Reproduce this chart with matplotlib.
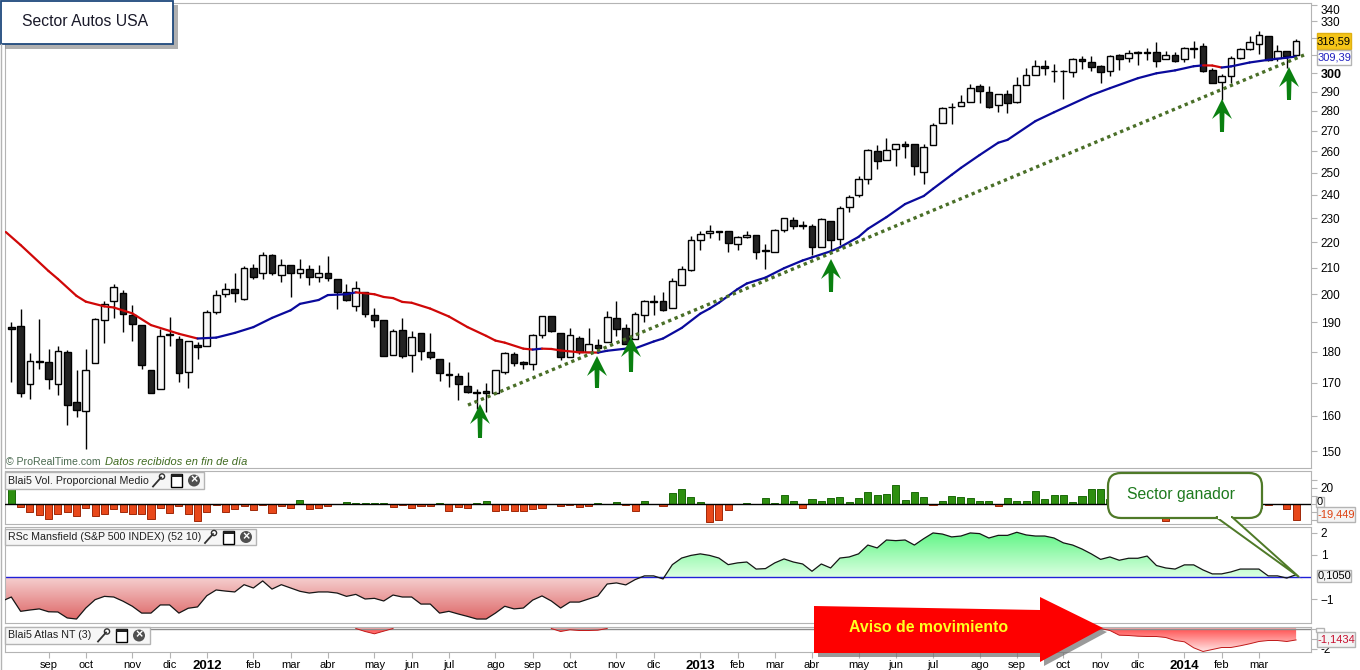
import numpy as np
import matplotlib
matplotlib.use("Agg")
import matplotlib.pyplot as plt
from matplotlib.colors import LinearSegmentedColormap
from matplotlib.patches import Polygon, Rectangle, Circle, FancyBboxPatch
from matplotlib.ticker import FixedLocator, FixedFormatter, NullLocator

plt.rcParams['font.family'] = ['Liberation Sans', 'DejaVu Sans']

# weekly candles, one row = 10 weeks
opens = [188.2,188.7,169.7,176.9,176.5,169.7,180,164,161.5,176.2,
         190.7,197.5,200.4,192.7,189,174.2,168,185.9,184.3,173.5,
         182.3,182,193.6,200,201.8,198.3,210,208,215,207.3,
         211,208,209.6,206.3,208,205.7,200.7,195.8,201,192.4,
         190.7,179,187.3,179,186.3,180,177.6,172.8,172,169,
         167.2,167.4,167,173.5,179.3,176.5,175.9,185.7,192.1,186.3,
         178.3,184.7,180,182.3,183.3,191.4,188,184.3,192.7,197.7,
         197.5,195,203.5,209.2,220.8,223.8,224.6,224.6,219.2,222,
         222.9,216.8,216.3,225,229.2,226.9,226.7,218,228.8,221.2,
         234.8,240,247,260,256,261,263.3,263.3,250.5,262.9,
         274,282.2,282.6,284.7,293.2,290,283.2,288.9,284.7,293.8,
         298.9,304.1,301.4,301.4,300.6,308.2,306.5,304.1,301.2,310,
         308.8,312,312,311.8,308.2,310,308.2,314.3,315.3,301.8,
         295.5,298.4,308.8,313.5,316.5,321.2,308.8,312.4,310]
highs = [190,194.5,179.4,191,181,182,180.7,174,181,191.3,
         197.5,203.8,201.4,196.2,189,174.2,187.7,191.7,185.4,183.7,
         183.2,194.2,201.7,204,208,210.5,211.5,216,215.4,213.4,
         211,213.4,211,211,214.6,205.7,203.8,204.9,201,195,
         190.7,187.6,191.4,187,186.3,186.3,177.6,176.7,173.2,173.5,
         168.2,169.8,174,180,180,176.8,186,192.3,192.1,186.3,
         188,185.4,188,184.3,193.8,197.5,189.3,193.6,197.9,199.6,
         200.7,206,210.7,222.5,224.6,227,224.6,224.6,222.4,224.6,
         223,219.2,225.4,230,230.4,228.8,227.5,230,228.8,235.2,
         240,248.4,261,263,266.5,263.5,265,263.3,263.3,273.6,
         281.8,284,288.4,294.3,294,293.2,288.9,291,297.8,303,
         307.6,307.6,305.3,301.8,308.5,309.4,309.4,304.5,310,310.6,
         313,312.4,314.1,317.6,312.4,311.8,314.7,318.2,317,303,
         299.5,309.4,314,321.2,324.2,321.2,316,312.4,319.5]
lows = [170.3,165.6,165,174.5,168.2,166.2,157.3,159.7,150.5,176.2,
        183,191.4,186.7,183.7,174.5,167,168,182,170.3,168.5,
        177.5,182,192.8,199,197,197.9,205.7,205.7,207.3,204.5,
        199,206,203.5,204.5,204.9,194.5,197.6,194,191.8,188.4,
        178.5,179,178,173.5,177.3,177.6,170.6,168.8,164.7,166.9,
        162,161.2,167,172.9,175.2,174.5,174,184.7,186.7,177.3,
        178.3,179.3,180,179.7,183.3,185.4,182.7,184.3,190,192.7,
        194,195,203.5,208.8,216.8,221.7,220.8,216,216.8,221.7,
        213.2,209.6,216,224.2,225.4,225.4,215,218,217,218.8,
        232.6,239,244.7,251.9,256,253,257,249,245,262.9,
        274,273.5,282.6,284.7,284.2,281.6,279.5,279,284.2,293.8,
        298.9,298.9,295.5,286,297.8,302.4,301.2,294.8,298.4,301.8,
        306.5,304.7,307.6,303.5,308.2,306.5,306.5,308.8,300.6,294.5,
        285.5,294.8,308,313,311,307.1,307.1,303,310]
closes = [187.8,166.8,176.8,176.6,171.3,180.3,163.2,161.8,174,191,
          196.4,202.7,193,189.3,175.5,167,185.4,185.5,173.2,183.7,
          181.7,193.6,199.6,201.8,200.4,210,206.3,215,208,211,
          208,209.6,206.3,208,206,200.7,198,202.2,192.8,190.7,
          178.7,187,178.7,185,180.3,178.3,173.2,172.4,169.7,167.2,
          166.8,167,174,179.6,176.2,175.9,185.7,192.1,187,178.3,
          185.7,180,182.7,181.3,191.7,187.7,182.7,193,197.5,197.3,
          194.2,204.9,209.6,220.8,223.3,224.6,224.2,219.6,222,222.9,
          216.3,216.4,225,230,226.7,226.5,218,229.6,220.8,234.3,
          239.1,247,260.5,255.2,260.5,263.3,262.4,252.9,262,273,
          281.5,281.8,284.7,292,290.4,282.1,288.9,284.2,293.8,298.9,
          304.1,303,301,301,308.2,307.1,303.5,300.6,309.4,308.2,
          311.2,311.6,311.6,307.1,310,307.1,314.1,313.9,301.2,294.8,
          298.4,308.8,313.5,317.6,321.8,307.6,312.4,309.4,318.59]

# moving average, read at these weeks
ma_weeks = [-0.6,1,4,5,7,8,10,11,13,15,17,18,20,22,24,26,28,30,31,33,34,36,37,39,40,41,42,43,45,47,
            49,51,52,53,55,56,57,58,59,61,63,64,66,67,69,70,72,74,75,76,78,79,81,83,85,86,88,89,91,92,
            94,96,98,99,101,102,104,106,107,110,112,116,118,121,123,125,127,128,129,130,131,133,135,137,138]
ma_vals = [224.2,218.9,208.7,205.7,199.4,197.3,195.6,195.2,193.1,189,187,186,184.4,184.7,186.3,188.3,191.5,194.2,196.5,197.9,
           199.7,200,200.7,200,199,198.6,197.2,196.9,194.8,192,188.3,185.3,183.7,183,181,180.7,181,180.9,180.4,179.8,
           179.7,180.3,181,181.1,183.4,184.4,188,193,194.8,196.9,201.9,204,206.2,209.8,212.8,214,216.4,218,222.2,225.5,
           230.4,236,239.5,242.7,249,252.2,258.2,264.1,265.5,274.8,279.3,288.2,291.9,297.3,300,301.6,303.9,304.4,304.3,303.2,
           303.8,306,307.5,308.7,309.39]

trend_weeks = [49.05, 138.97]
trend_vals = [163.2, 310.5]

volume = [18,-4,-10.4,-13.3,-18.8,-12.5,-10.4,-15.4,-5,-15.4,
          -13,-6,-10.4,-13,-13,-18.8,-5,-11.7,-3,-13,
          -21.7,-10.4,-1.2,-10.4,-6.2,-3,-7.5,-1.2,-11.7,-3,
          -5.4,5.4,-6.2,-5,-3,-0.4,2.5,1.2,1.2,1.2,
          1.2,-3.7,-1.6,-5,-3,-3,1.2,-8.7,-4,-5,
          1.2,3.7,-8.7,-7.5,-8.7,-8.7,-6.2,-5,0.2,-2.5,
          -1.6,-3.7,-2.5,1.2,0.2,2.5,-1.2,-8.7,3.7,0,
          -2.5,13.7,18,8.7,2.5,-22.9,-20.4,-7.5,0,1.2,
          0.2,7.5,1.2,11.2,4.2,-5,6.2,3.7,7.5,8.7,
          2.5,7.5,15,11.2,12.5,23.7,5,15,8.7,-1.2,
          3.7,10,8.7,7.5,3.7,3.7,-2.5,7.5,3.7,3.7,
          16.2,6.2,11.2,11.2,2.5,10,18.7,18,6,10,
          5,8,12,-2,-21.7,3,6,4,7,-1,
          5,4,3,2,-5,-1.2,0.2,-6.2,-19.449]

mansfield = [-0.91,-1.56,-1.5,-1.45,-1.58,-1.59,-1.86,-1.91,-1.41,-1.03,
             -0.88,-0.91,-1.1,-1.33,-1.64,-1.64,-1.27,-1.27,-1.64,-1.42,
             -1.36,-0.85,-0.59,-0.64,-0.68,-0.35,-0.5,-0.18,-0.55,-0.35,
             -0.5,-0.65,-0.73,-0.68,-0.68,-0.73,-0.88,-0.79,-1.0,-0.97,
             -1.09,-0.82,-0.91,-0.91,-1.23,-1.23,-1.64,-1.56,-1.68,-1.79,
             -1.91,-1.91,-1.64,-1.33,-1.45,-1.41,-1.05,-0.86,-1.09,-1.41,
             -1.14,-1.14,-1.0,-0.86,-0.32,-0.27,-0.36,-0.12,0.05,0.05,
             -0.09,0.56,0.86,0.98,1.05,0.98,0.86,0.56,0.64,0.68,
             0.36,0.38,0.64,0.82,0.68,0.59,0.26,0.59,0.41,0.86,
             0.91,1.05,1.45,1.32,1.68,1.65,1.68,1.45,1.74,2.0,
             1.95,1.82,1.86,2.0,1.97,1.77,1.89,1.89,2.03,1.91,
             1.86,1.86,1.77,1.55,1.45,1.27,1.05,0.8,0.91,0.76,
             0.85,0.85,0.95,0.52,0.41,0.36,0.55,0.55,0.32,0.14,
             0.14,0.23,0.36,0.36,0.36,0.05,0.05,-0.05,0.105]

atlas = [0,0,0,0,0,0,0,0,0,0,
         0,0,0,0,0,0,0,0,0,0,
         0,0,0,0,0,0,0,0,0,0,
         0,0,0,0,0,0,0,0,-0.3,-0.53,
         -0.27,0,0,0,0,0,0,0,0,0,
         0,0,0,0,0,0,0,0,0,-0.3,
         -0.13,-0.2,-0.2,-0.17,0,0,0,0,0,0,
         0,0,0,0,0,0,0,0,0,0,
         0,0,0,0,0,0,0,0,0,0,
         0,0,0,0,0,0,0,0,0,0,
         0,0,0,0,0,0,0,0,0,0,
         0,0,0,0,0,0,0,0,-0.2,-0.67,
         -0.7,-0.77,-0.8,-0.8,-0.9,-1.2,-1.33,-1.93,-2.3,-2.1,
         -1.9,-1.9,-1.73,-1.53,-1.3,-1.2,-1.2,-1.3,-1.1434]

month_weeks = [4,8,13,17,21,26,30,34,39,43,47,52,56,60,65,69,74,78,82,86,91,95,99,104,108,113,117,121,126,130,134]
month_labels = ['sep','oct','nov','dic','2012','feb','mar','abr','may','jun','jul','ago','sep','oct','nov','dic',
                '2013','feb','mar','abr','may','jun','jul','ago','sep','oct','nov','dic','2014','feb','mar']
price_ticks = [150,160,170,180,190,200,210,220,230,240,250,260,270,280,290,300,310,320,330,340]

W, H = 1360, 670
GRAY = '#b4b4b4'
fig = plt.figure(figsize=(W/100, H/100), dpi=100, facecolor='white')


def panel(top, bottom):
    a = fig.add_axes([5/W, 1-bottom/H, (1311-5)/W, (bottom-top)/H])
    a.set_xlim(-0.68, 139.6)
    a.set_xticks([])
    for s in a.spines.values():
        s.set_color(GRAY)
    a.yaxis.tick_right()
    a.tick_params(axis='y', length=4, color=GRAY, labelsize=8.5, pad=3)
    return a


def gradient(a, colors, x0, x1, y0, y1, clip_x, clip_y, base):
    # vertical colour gradient clipped to the area between the curve and base
    cmap = LinearSegmentedColormap.from_list('g', colors)
    im = a.imshow(np.linspace(0, 1, 128).reshape(-1, 1), cmap=cmap, aspect='auto',
                  extent=[x0, x1, y1, y0], origin='upper', zorder=1)
    pts = np.column_stack([np.r_[clip_x[0], clip_x, clip_x[-1]], np.r_[base, clip_y, base]])
    im.set_clip_path(Polygon(pts, closed=True, transform=a.transData))


weeks = np.arange(len(closes))

# price panel
ax = panel(3, 468)
ax.set_yscale('log')
ax.set_ylim(145.4, 341.3)
ax.yaxis.set_major_locator(FixedLocator(price_ticks))
# 310 and 320 sit behind the value boxes
ax.yaxis.set_major_formatter(FixedFormatter(['' if p in (310, 320) else str(p) for p in price_ticks]))
ax.yaxis.set_minor_locator(NullLocator())
for t, p in zip(ax.get_yticklabels(), price_ticks):
    if p == 300:
        t.set_fontweight('bold')
        t.set_fontsize(9)
    if p == 340:
        t.set_va('top')

ax.vlines(weeks, lows, highs, color='black', lw=1, zorder=2)
for i in weeks:
    bottom = min(opens[i], closes[i])
    top = max(opens[i], closes[i])
    col = '#222222' if closes[i] < opens[i] else '#f8f8f8'
    ax.bar(i, top-bottom, 0.72, bottom=bottom, color=col, edgecolor='black', lw=1, zorder=3)

for k in range(len(ma_weeks)-1):
    col = '#0a0a9c' if ma_vals[k+1] > ma_vals[k] else '#d00808'
    ax.plot(ma_weeks[k:k+2], ma_vals[k:k+2], color=col, lw=1.6, solid_capstyle='round', zorder=4)
ax.plot(trend_weeks, trend_vals, color='#4a6f28', lw=2.4, ls=(0, (1, 1.1)), zorder=5)

# volume panel
axv = panel(471, 524)
axv.set_ylim(-25, 41)
axv.set_yticks([-20, -10, 0, 10, 20, 30])
axv.set_yticklabels(['', '', '', '', '20', ''])
for v, i in zip(volume, weeks):
    face = '#2e8f10' if v >= 0 else '#e8481a'
    edge = '#1c6a0a' if v >= 0 else '#a02808'
    axv.bar(i, v, 0.76, color=face, edgecolor=edge, lw=0.7, zorder=2)
axv.axhline(0, color='black', lw=1, zorder=3)

# mansfield panel
axm = panel(527, 623)
axm.set_ylim(-2.09, 2.27)
axm.set_yticks([-1, 1, 2])
m_x = np.r_[-0.65, weeks]
m_y = np.r_[-1.03, mansfield]
gradient(axm, ['#5cf582', '#dcffe2'], -0.68, 139.6, 2.1, 0, m_x, np.clip(m_y, 0, None), 0)
gradient(axm, ['#f6d2d2', '#dd6464'], -0.68, 139.6, 0, -2.0, m_x, np.clip(m_y, None, 0), 0)
axm.axhline(0, color='#2020d8', lw=1, zorder=2)
axm.plot(m_x, m_y, color='#151515', lw=0.9, zorder=3)
axm.set_xlim(-0.68, 139.6)
axm.set_ylim(-2.09, 2.27)

# atlas panel
axa = panel(627, 652)
axa.set_ylim(-2.35, 0.15)
axa.set_yticks([-2, -1, 0])
axa.set_yticklabels(['-2', '', ''])
atlas_arr = np.array(atlas)
gradient(axa, ['#ff4f4f', '#ffe2e2'], -0.68, 139.6, 0, -2.3, weeks, atlas_arr, 0)
axa.axhline(0, color='#8c8c8c', lw=1, zorder=2)
# the curve only shows where it leaves the zero line
near = np.convolve(atlas_arr < 0, [1, 1, 1], mode='same') > 0
axa.plot(weeks, np.ma.masked_where(~near, atlas_arr), color='#c01818', lw=0.7, zorder=3)
axa.set_xlim(-0.68, 139.6)
axa.set_ylim(-2.35, 0.15)
axa.set_xticks(month_weeks)
axa.set_xticklabels(month_labels, fontsize=8)
axa.tick_params(axis='x', length=4, color=GRAY, pad=2)
for t in axa.get_xticklabels():
    if t.get_text().startswith('20'):
        t.set_fontweight('bold')
        t.set_fontsize(9.5)

# everything drawn on top of the panels, in picture pixels
top = fig.add_axes([0, 0, 1, 1], facecolor='none', zorder=10)
top.set_xlim(0, W)
top.set_ylim(H, 0)
top.axis('off')


def green_arrow(xc, ytip, ybot):
    pts = [(xc, ytip), (xc+10, ytip+20), (xc+2.5, ytip+14), (xc+2, ybot), (xc-2, ybot), (xc-2.5, ytip+14), (xc-10, ytip+20)]
    top.add_patch(Polygon(pts, closed=True, color='#0a8010', lw=0))


for a_x, a_tip, a_bot in [(480, 404, 438), (597, 356, 388), (631, 337, 372), (831, 259, 292), (1222, 99, 132), (1289, 67, 100)]:
    green_arrow(a_x, a_tip, a_bot)

# left margin line
top.plot([1, 1], [44, 670], color=GRAY, lw=1)

# title box
top.add_patch(Rectangle((5, 5), 173, 44, color='#8f8f8f', lw=0, alpha=0.7))
top.add_patch(Rectangle((0.5, 0.5), 172.5, 43.5, facecolor='white', edgecolor='#1f497d', lw=1.3))
top.text(85, 22, 'Sector Autos USA', fontsize=11.3, ha='center', va='center', color='#1a1a2a')

top.text(6, 462, '\u00a9 ProRealTime.com', fontsize=7.6, va='center', color='#4a6a50')
top.text(105, 462, 'Datos recibidos en fin de d\u00eda', fontsize=8, style='italic', va='center', color='#3f6a20')


def header(label, x1, y0, y1, wrench, window, close):
    ym = (y0+y1)/2
    top.add_patch(Rectangle((5, y0), x1-5, y1-y0, facecolor='#f6f6f6', edgecolor=GRAY, lw=1))
    top.text(8, ym, label, fontsize=7.7, va='center', color='#202020')
    top.plot([wrench-5, wrench+3], [ym+6, ym-3], color='#303030', lw=1.3)
    top.add_patch(Circle((wrench+4, ym-4), 2.6, facecolor='white', edgecolor='#303030', lw=1))
    top.add_patch(Rectangle((window-5.5, ym-6.5), 11, 13, facecolor='white', edgecolor='black', lw=1))
    top.add_patch(Rectangle((window-5.5, ym-6.5), 11, 3, color='#202020', lw=0))
    top.add_patch(Circle((close, ym), 6, color='#505050', lw=0))
    top.text(close, ym, '\u00d7', color='white', fontsize=9, fontweight='bold', ha='center', va='center')


header('Blai5 Vol. Proporcional Medio', 204, 472, 489, 158, 176, 194)
header('RSc Mansfield (S&P 500 INDEX) (52 10)', 256, 529, 545, 210, 228, 246)
header('Blai5 Atlas NT (3)', 150, 627, 644, 103, 121, 139)


def value_box(txt, x0, x1, y0, y1, color, face='#f4f4f4', edge=GRAY):
    top.add_patch(Rectangle((x0, y0), x1-x0, y1-y0, facecolor=face, edgecolor=edge, lw=1))
    if txt:
        top.text((x0+x1)/2, (y0+y1)/2, txt, color=color, fontsize=8, ha='center', va='center')


value_box('318,59', 1317, 1351, 33, 49, 'black', face='#f5c518', edge='#e0b010')
value_box('309,39', 1317, 1351, 50, 65, '#2020c0', face='white')
value_box('0', 1316, 1324, 497, 507, 'black', face='white')
value_box('-19,449', 1317, 1355, 507, 522, '#dd4010')
value_box('0,1050', 1317, 1351, 570, 582, 'black')
value_box('-1,1434', 1317, 1355, 632, 647, '#c81030')
value_box('', 1316, 1324, 628, 632, 'black', face='white')

# callout
top.add_patch(Polygon([(1219, 520), (1236, 520), (1303, 580)], closed=True, color='#a0a0a0', lw=0, alpha=0.7))
top.add_patch(FancyBboxPatch((1122, 481), 136, 32, boxstyle='round,pad=0,rounding_size=12', color='#a0a0a0', lw=0, alpha=0.7, mutation_aspect=1))
top.add_patch(FancyBboxPatch((1108, 473), 154, 45, boxstyle='round,pad=0,rounding_size=13', facecolor='white', edgecolor='#4f7a28', lw=1.6))
top.add_patch(Polygon([(1216, 517), (1232, 517), (1299, 577)], closed=True, facecolor='white', edgecolor='#4f7a28', lw=1.4))
top.add_patch(Rectangle((1217.5, 513), 13, 5.5, color='white', lw=0))
top.text(1181, 495, 'Sector ganador', fontsize=11.3, color='#1e7a1e', ha='center', va='center')

# red arrow
top.add_patch(Polygon([(1060, 612), (1107, 632), (1044, 666), (1044, 657), (818, 657), (818, 650)], closed=True, color='#707070', lw=0, alpha=0.7))
top.add_patch(Polygon([(814, 606), (1040, 610), (1040, 597), (1103, 628), (1040, 662), (1040, 653), (814, 653)], closed=True, color='#fe0000', lw=0))
top.text(929, 628, 'Aviso de movimiento', fontsize=11.4, fontweight='bold', color='#ffff20', ha='center', va='center')

fig.savefig('out.png', dpi=100)
